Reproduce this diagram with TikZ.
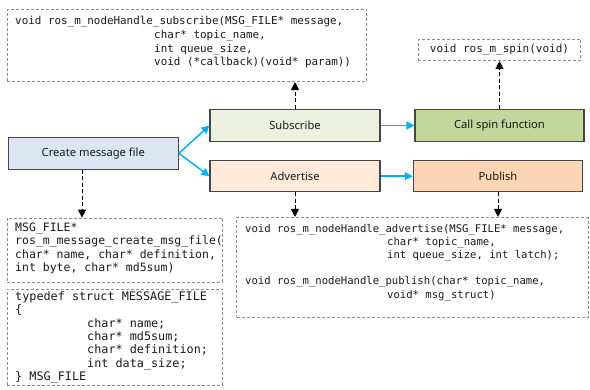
\documentclass[tikz,border=0pt]{standalone}
\usepackage{fontspec}
\setmainfont{Noto Sans}
\newfontfamily\codefont{DejaVu Sans Mono}
\usetikzlibrary{arrows.meta}

\definecolor{edgegray}{RGB}{70,70,70}
\definecolor{dashgray}{RGB}{140,140,140}
\definecolor{flowblue}{RGB}{0,176,240}
\definecolor{createfill}{RGB}{220,230,242}
\definecolor{subfill}{RGB}{235,241,222}
\definecolor{spinfill}{RGB}{195,214,155}
\definecolor{advfill}{RGB}{253,234,218}
\definecolor{pubfill}{RGB}{252,213,181}
\definecolor{inkgray}{RGB}{25,25,25}

\begin{document}
\begin{tikzpicture}[x=1pt,y=-1pt,
  stepbox/.style={draw=edgegray, line width=1.1pt, minimum width=170pt,
    minimum height=32pt, inner sep=0pt, text=inkgray,
    font=\fontsize{11.2}{13}\selectfont},
  codebox/.style={draw=dashgray, line width=0.7pt, dash pattern=on 3pt off 2pt,
    inner sep=0pt},
  codetext/.style={inner sep=0pt, anchor=north west, align=left, text=inkgray},
  flow/.style={draw=flowblue, line width=1.5pt,
    -{Triangle[length=8pt,width=8pt]}},
  call/.style={draw=black, line width=1pt, dash pattern=on 4pt off 2.5pt,
    -{Triangle[length=8pt,width=8pt]}}
]
\useasboundingbox (0,0) rectangle (590,390);

% process steps
\node[stepbox, fill=createfill] (create) at (93.3,153.3) {Create message file};
\node[stepbox, fill=subfill] (subscribe) at (295,125.5) {Subscribe};
\node[stepbox, fill=spinfill, minimum width=169pt] (spin) at (499.5,125.5) {Call spin function};
\node[stepbox, fill=advfill, minimum width=170pt, minimum height=31pt] (advertise) at (295,176.2) {Advertise};
\node[stepbox, fill=pubfill, minimum width=169.4pt, minimum height=31pt] (publish) at (498,176.2) {Publish};

% API signature boxes
\node[codebox, minimum width=359.4pt, minimum height=72.4pt] (subapi) at (187,45.5) {};
\node[codetext, font=\codefont\fontsize{10.9}{13.8}\selectfont] (subtxt) at (15,14.4)
{\rule{0pt}{10pt}void ros\_m\_nodeHandle\_subscribe(MSG\_FILE* message,\\
\hspace*{139pt}char* topic\_name,\\
\hspace*{139pt}int queue\_size,\\
\hspace*{139pt}void (*callback)(void* param))};

\node[codebox, minimum width=162.4pt, minimum height=21.4pt,
  font=\codefont\fontsize{11}{13}\selectfont, text=inkgray] (spinapi) at (499.5,50)
  {void ros\_m\_spin(void)};

\node[codebox, minimum width=215.4pt, minimum height=64pt] (msgapi) at (115,250) {};
\node[codetext, font=\codefont\fontsize{11.5}{13.6}\selectfont] (msgtxt) at (15,221)
{\rule{0pt}{10pt}MSG\_FILE*\\
ros\_m\_message\_create\_msg\_file(\\
char* name, char* definition,\\
int byte, char* md5sum)};

\node[codebox, minimum width=215.4pt, minimum height=96pt] (structdef) at (115,337) {};
\node[codetext, font=\codefont\fontsize{11.8}{13.3}\selectfont] (structtxt) at (15,290.5)
{\rule{0pt}{10pt}typedef struct MESSAGE\_FILE\\
\{\\
\hspace*{72pt}char* name;\\
\hspace*{72pt}char* md5sum;\\
\hspace*{72pt}char* definition;\\
\hspace*{72pt}int data\_size;\\
\} MSG\_FILE};

\node[codebox, minimum width=351.3pt, minimum height=100pt] (advapi) at (412.3,267.3) {};
\node[codetext, font=\codefont\fontsize{10.6}{13.2}\selectfont] (advtxt) at (245,222)
{\rule{0pt}{10pt}void ros\_m\_nodeHandle\_advertise(MSG\_FILE* message,\\
\hspace*{142pt}char* topic\_name,\\
\hspace*{142pt}int queue\_size, int latch);\\[13.2pt]
void ros\_m\_nodeHandle\_publish(char* topic\_name,\\
\hspace*{142pt}void* msg\_struct)};

% flow between steps
\draw[flow] (create.east) -- (subscribe.west);
\draw[flow] (create.east) -- (advertise.west);
\draw[flow] (subscribe) -- (spin);
\draw[flow] (advertise) -- (publish);

% steps to the functions they call
\draw[call] (subscribe.north) -- (subscribe.north |- subapi.south);
\draw[call] (spin.north) -- (spinapi.south);
\draw[call] ([xshift=-11.3pt]create.south) -- ([xshift=-11.3pt]create.south |- msgapi.north);
\draw[call] (advertise.south) -- (advertise.south |- advapi.north);
\draw[call] (publish.south) -- (publish.south |- advapi.north);
\end{tikzpicture}
\end{document}
